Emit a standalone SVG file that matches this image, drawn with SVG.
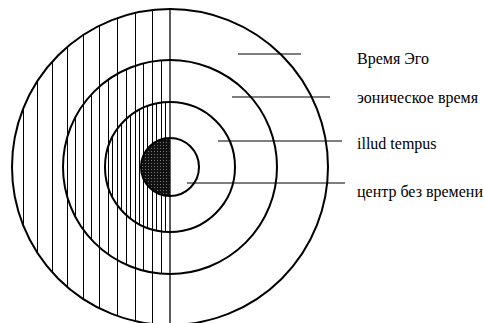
<svg xmlns="http://www.w3.org/2000/svg" width="484" height="323" viewBox="0 0 484 323">
<style>
.ring{fill:none;stroke:#000;stroke-width:2}
.h{fill:none;stroke:#000;stroke-width:1;shape-rendering:crispEdges}
.lead{stroke:#000;stroke-width:1.2}
text{font-family:"Liberation Serif","DejaVu Serif",serif;font-size:16px;fill:#000}
</style>
<defs>
<clipPath id="cOuter"><path d="M170,9 A158,158 0 0 0 170,325 Z"/></clipPath>
<clipPath id="cMid"><path d="M170,60 A107,107 0 0 0 170,274 Z"/></clipPath>
<clipPath id="cIn"><path d="M170,102 A65,65 0 0 0 170,232 Z"/></clipPath>
<pattern id="pDark" x="0" y="0" width="3" height="3" patternUnits="userSpaceOnUse"><rect width="3" height="3" fill="#111"/><rect x="1" y="1" width="1" height="1" fill="#777"/></pattern>
</defs>
<rect width="484" height="323" fill="#fff"/>
<g id="hatching">
<path class="h" clip-path="url(#cOuter)" d="M23.5,0V323M37.5,0V323M52.5,0V323M67.5,0V323M83.5,0V323M99.5,0V323M117.5,0V323M135.5,0V323M152.5,0V323"/>
<path class="h" clip-path="url(#cMid)" d="M60.5,0V323M75.5,0V323M91.5,0V323M108.5,0V323M126.5,0V323M143.5,0V323M161.5,0V323"/>
<path class="h" clip-path="url(#cIn)" d="M112.5,0V323M121.5,0V323M130.5,0V323M139.5,0V323M147.5,0V323M156.5,0V323M165.5,0V323"/>
</g>
<g id="ring-ego"><circle cx="170" cy="167" r="158" class="ring"/></g>
<g id="ring-aeon"><circle cx="170" cy="167" r="107" class="ring"/></g>
<g id="ring-illud"><circle cx="170" cy="167" r="65" class="ring"/></g>
<g id="ring-center">
<path d="M170,138 A29,29 0 0 0 170,196 Z" fill="url(#pDark)"/>
<circle cx="170" cy="167" r="29" class="ring"/>
</g>
<g id="axis"><line x1="170" y1="9" x2="170" y2="323" stroke="#000" stroke-width="1.3"/></g>
<g id="connectors">
<line x1="238" y1="54" x2="301" y2="54" class="lead"/>
<line x1="232" y1="97" x2="330" y2="97" class="lead"/>
<line x1="218" y1="141" x2="342" y2="141" class="lead"/>
<line x1="187" y1="183" x2="345" y2="183" class="lead"/>
</g>
<g id="label-ego"><text x="357" y="64">Время Эго</text></g>
<g id="label-aeon"><text x="357" y="103">эоническое время</text></g>
<g id="label-illud"><text x="357" y="149">illud tempus</text></g>
<g id="label-center"><text x="357" y="197">центр без времени</text></g>
</svg>
